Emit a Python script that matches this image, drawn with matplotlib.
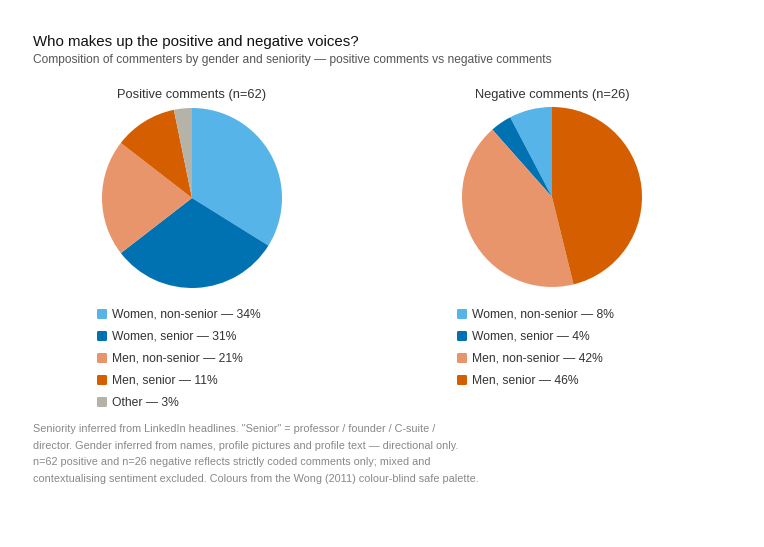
import matplotlib.pyplot as plt
from matplotlib.patches import FancyBboxPatch

plt.rcParams['font.family'] = ['Liberation Sans', 'DejaVu Sans']

# data
pos_labels = ['Women, non-senior', 'Women, senior', 'Men, non-senior', 'Men, senior', 'Other']
pos_counts = [21, 19, 13, 7, 2]
pos_pct = [34, 31, 21, 11, 3]
neg_labels = ['Women, non-senior', 'Women, senior', 'Men, non-senior', 'Men, senior']
neg_counts = [2, 1, 11, 12]
neg_pct = [8, 4, 42, 46]

colors = {
    'Women, non-senior': '#56B4E9',
    'Women, senior': '#0072B2',
    'Men, non-senior': '#E8956B',
    'Men, senior': '#D55E00',
    'Other': '#B5B2A8',
}

W, H = 764, 547
fig = plt.figure(figsize=(W / 100, H / 100), dpi=100)


def fx(x):
    return x / W


def fy(y):
    return 1 - y / H


def pie_panel(cx, cy, r, labels, counts, title, clockwise):
    ax = fig.add_axes([fx(cx - r), fy(cy + r), fx(2 * r), (2 * r) / H])
    ax.pie(counts, colors=[colors[l] for l in labels], startangle=90,
           counterclock=not clockwise, radius=1.0,
           wedgeprops=dict(linewidth=0))
    ax.set_xlim(-1, 1)
    ax.set_ylim(-1, 1)
    ax.set_aspect('equal')
    ax.axis('off')
    fig.text(fx(cx), fy(95), title, ha='center', va='center',
             fontsize=9.3, color='#333333')


pie_panel(192, 198, 90, pos_labels, pos_counts, 'Positive comments (n=62)', True)
pie_panel(552, 197, 90, neg_labels, neg_counts, 'Negative comments (n=26)', False)


def legend(x0, y0, labels, pcts):
    for i, (lab, p) in enumerate(zip(labels, pcts)):
        y = y0 + i * 22
        box = FancyBboxPatch((fx(x0 - 5), fy(y + 5)), fx(10), 10 / H,
                             boxstyle='round,pad=0,rounding_size=0.002',
                             transform=fig.transFigure, facecolor=colors[lab],
                             edgecolor='none')
        fig.add_artist(box)
        fig.text(fx(x0 + 10), fy(y + 0.5), f'{lab} \u2014 {p}%', ha='left', va='center',
                 fontsize=8.7, color='#333333')


legend(102, 314, pos_labels, pos_pct)
legend(462, 314, neg_labels, neg_pct)

fig.text(fx(33), fy(42), 'Who makes up the positive and negative voices?',
         ha='left', va='center', fontsize=10.8, color='#111111')
fig.text(fx(33), fy(60),
         'Composition of commenters by gender and seniority \u2014 positive comments vs negative comments',
         ha='left', va='center', fontsize=8.65, color='#555555')

note_lines = [
    'Seniority inferred from LinkedIn headlines. "Senior" = professor / founder / C-suite /',
    'director. Gender inferred from names, profile pictures and profile text \u2014 directional only.',
    'n=62 positive and n=26 negative reflects strictly coded comments only; mixed and',
    'contextualising sentiment excluded. Colours from the Wong (2011) colour-blind safe palette.',
]
for i, line in enumerate(note_lines):
    fig.text(fx(33), fy(429 + i * 16.7), line, ha='left', va='center',
             fontsize=7.8, color='#888888')

plt.savefig('out.png', dpi=100, facecolor='white')
